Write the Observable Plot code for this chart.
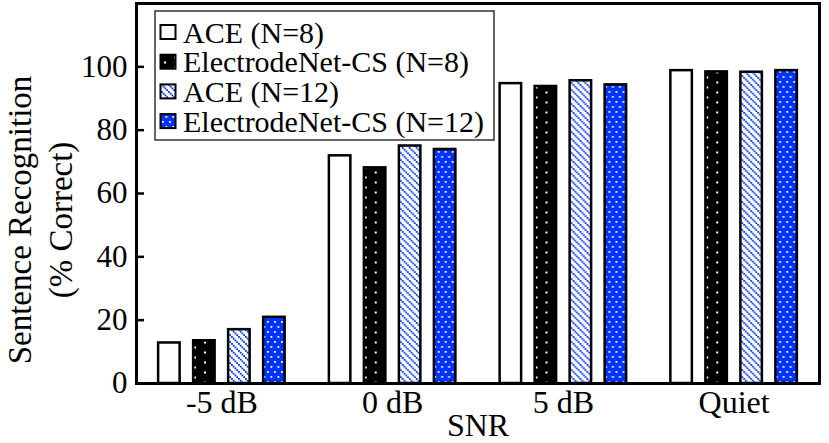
<!DOCTYPE html>
<html><head><meta charset="utf-8">
<script src="https://cdn.jsdelivr.net/npm/d3@7"></script>
<script src="https://cdn.jsdelivr.net/npm/@observablehq/plot@0.6"></script>
<style>body{margin:0;background:#fff}</style>
</head><body><div id="chart"></div>
<script>
const snr = ["-5 dB", "0 dB", "5 dB", "Quiet"];
const series = ["ACE (N=8)", "ElectrodeNet-CS (N=8)", "ACE (N=12)", "ElectrodeNet-CS (N=12)"];
const ace8 = [12.8, 71.9, 94.7, 98.8];
const ecs8 = [13.5, 68.1, 93.8, 98.4];
const ace12 = [17.0, 75.0, 95.6, 98.3];
const ecs12 = [20.9, 73.9, 94.3, 98.8];
const yTicks = [0, 20, 40, 60, 80, 100];
const yLabel = ["Sentence Recognition", "(% Correct)"];
const xLabel = "SNR";

const values = [ace8, ecs8, ace12, ecs12];
const rows = [];
snr.forEach((s, i) => series.forEach((name, j) => rows.push({snr: s, series: name, value: values[j][i]})));
const patternIds = ["p-ace8", "p-ecs8", "p-ace12", "p-ecs12"];
const fills = patternIds.map(id => `url(#${id})`);
const BLUE = "#0033ff";
const font = '"Liberation Serif","DejaVu Serif","Times New Roman",serif';

const svgEl = Plot.plot({
  width: 829, height: 443,
  marginLeft: 136, marginRight: 10, marginTop: 3, marginBottom: 60,
  style: {fontFamily: font, fontSize: "32px", color: "black", background: "white", overflow: "visible"},
  fx: {domain: snr, padding: 0, round: false, label: xLabel},
  x: {domain: series, paddingInner: 0.386, paddingOuter: 0.632, round: false, axis: null},
  y: {domain: [0, 120]},
  color: {domain: series, range: fills},
  marks: [
    Plot.barY(rows, {fx: "snr", x: "series", y: "value", fill: "series", stroke: "black", strokeWidth: 2.5}),
    Plot.axisY({ticks: yTicks, tickSize: 8, dx: 8, strokeWidth: 2.5, tickFormat: () => "", label: null}),
    Plot.axisY({ticks: yTicks, tickSize: 0, tickPadding: 9, fontSize: 31, label: null}),
    Plot.axisFx({anchor: "bottom", tickSize: 0, tickPadding: 7, fontSize: 32, label: xLabel, labelAnchor: "center", labelOffset: 52}),
    Plot.frame({anchor: "top", strokeWidth: 3}),
    Plot.frame({anchor: "bottom", strokeWidth: 3}),
    Plot.frame({anchor: "left", facetAnchor: "left", strokeWidth: 3}),
    Plot.frame({anchor: "right", facetAnchor: "right", strokeWidth: 3})
  ]
});
document.getElementById("chart").appendChild(svgEl);

const svg = d3.select(svgEl);
const defs = svg.insert("defs", ":first-child");
// ACE N=8: plain white
defs.append("pattern").attr("id", "p-ace8").attr("patternUnits", "userSpaceOnUse").attr("width", 4).attr("height", 4)
  .append("rect").attr("width", 4).attr("height", 4).attr("fill", "white");
// ElectrodeNet-CS N=8: black with sparse white dots
{
  const p = defs.append("pattern").attr("id", "p-ecs8").attr("patternUnits", "userSpaceOnUse").attr("width", 20).attr("height", 10);
  p.append("rect").attr("width", 20).attr("height", 10).attr("fill", "black");
  p.append("rect").attr("x", 4).attr("y", 1.5).attr("width", 2).attr("height", 2).attr("fill", "white");
  p.append("rect").attr("x", 14).attr("y", 6.5).attr("width", 2).attr("height", 2).attr("fill", "white");
}
// ACE N=12: white with blue dotted diagonals
{
  const p = defs.append("pattern").attr("id", "p-ace12").attr("patternUnits", "userSpaceOnUse").attr("width", 7).attr("height", 7);
  p.append("rect").attr("width", 7).attr("height", 7).attr("fill", "white");
  [0, 1.75, 3.5, 5.25].forEach(o => p.append("rect").attr("x", o).attr("y", o).attr("width", 1.8).attr("height", 1.8).attr("fill", BLUE));
}
// ElectrodeNet-CS N=12: blue with dense white dots
{
  const p = defs.append("pattern").attr("id", "p-ecs12").attr("patternUnits", "userSpaceOnUse").attr("width", 7).attr("height", 10);
  p.append("rect").attr("width", 7).attr("height", 10).attr("fill", BLUE);
  p.append("rect").attr("x", 1).attr("y", 1).attr("width", 1.8).attr("height", 1.8).attr("fill", "white");
  p.append("rect").attr("x", 4.5).attr("y", 6).attr("width", 1.8).attr("height", 1.8).attr("fill", "white");
}

// Y title (two lines, rotated)
const yl = svg.append("g").attr("font-family", font).attr("font-size", 33).attr("text-anchor", "middle").attr("fill", "black");
yl.append("text").attr("transform", "translate(31,220) rotate(-90)").text(yLabel[0]);
yl.append("text").attr("transform", "translate(72,220) rotate(-90)").text(yLabel[1]);

// Legend
const lg = svg.append("g").attr("font-family", font).attr("font-size", 30).attr("fill", "black").attr("text-anchor", "start");
lg.append("rect").attr("x", 155).attr("y", 11).attr("width", 339).attr("height", 129)
  .attr("fill", "white").attr("stroke", "#333").attr("stroke-width", 1.5);
series.forEach((name, i) => {
  const cy = 32 + i * 29.7;
  lg.append("rect").attr("x", 160.5).attr("y", cy - 7).attr("width", 15).attr("height", 14)
    .attr("fill", fills[i]).attr("stroke", "black").attr("stroke-width", 2);
  lg.append("text").attr("x", 183).attr("y", cy).attr("dominant-baseline", "central").text(name);
});
</script>
</body></html>
